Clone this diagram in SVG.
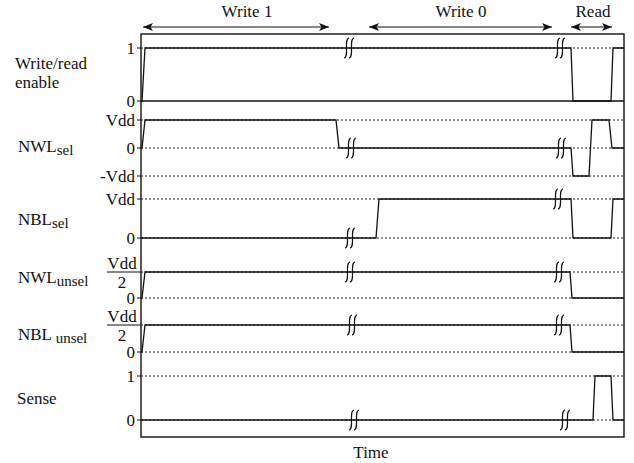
<svg xmlns="http://www.w3.org/2000/svg" width="634" height="463" viewBox="0 0 634 463">
<defs>
<marker id="ah" viewBox="0 0 10 8" refX="10" refY="4" markerWidth="10" markerHeight="8" markerUnits="userSpaceOnUse" orient="auto-start-reverse">
<path d="M0,0 L10,4 L0,8 L2.5,4 Z" fill="#111"/>
</marker>
<path id="brk" d="M0,-10 C-5.5,-9 0.5,9 -5,10 M5,-10 C-0.5,-9 5.5,9 0,10" fill="none" stroke="#111" stroke-width="1.2"/>
</defs>
<style>
text{font-family:"Liberation Serif","Times New Roman",serif;font-size:17px;fill:#111}
.sub{font-size:15px}
.lv{text-anchor:end}
.mid{text-anchor:middle}
.dot{stroke:#222;stroke-width:1;stroke-dasharray:2 2;fill:none}
.sig{stroke:#111;stroke-width:1.3;fill:none;stroke-linejoin:miter}
.frame{stroke:#111;stroke-width:1.4;fill:none}
.tick{stroke:#111;stroke-width:1}
.arr{stroke:#111;stroke-width:1.2;marker-start:url(#ah);marker-end:url(#ah)}
</style>
<rect width="634" height="463" fill="#fff"/>

<g id="phases">
<line class="arr" x1="143" y1="27" x2="329" y2="27"/>
<text class="mid" x="247" y="17">Write 1</text>
<line class="arr" x1="369" y1="27" x2="552" y2="27"/>
<text class="mid" x="461" y="17">Write 0</text>
<line class="arr" x1="571" y1="27" x2="612" y2="27"/>
<text class="mid" x="593" y="17">Read</text>
</g>

<g id="reference-lines">
<line class="dot" x1="141" y1="48" x2="624" y2="48"/>
<line class="dot" x1="141" y1="120" x2="624" y2="120"/>
<line class="dot" x1="141" y1="148" x2="624" y2="148"/>
<line class="dot" x1="141" y1="176" x2="624" y2="176"/>
<line class="dot" x1="141" y1="199" x2="624" y2="199"/>
<line class="dot" x1="141" y1="238" x2="624" y2="238"/>
<line class="dot" x1="141" y1="272" x2="624" y2="272"/>
<line class="dot" x1="141" y1="298" x2="624" y2="298"/>
<line class="dot" x1="141" y1="325" x2="624" y2="325"/>
<line class="dot" x1="141" y1="352" x2="624" y2="352"/>
<line class="dot" x1="141" y1="376" x2="624" y2="376"/>
<line class="dot" x1="141" y1="420" x2="624" y2="420"/>
<line class="frame" x1="141" y1="101" x2="624" y2="101"/>
</g>

<g id="ticks">
<line class="tick" x1="137" y1="48" x2="141" y2="48"/>
<line class="tick" x1="137" y1="101" x2="141" y2="101"/>
<line class="tick" x1="137" y1="120" x2="141" y2="120"/>
<line class="tick" x1="137" y1="148" x2="141" y2="148"/>
<line class="tick" x1="137" y1="176" x2="141" y2="176"/>
<line class="tick" x1="137" y1="199" x2="141" y2="199"/>
<line class="tick" x1="137" y1="238" x2="141" y2="238"/>
<line class="tick" x1="137" y1="272" x2="141" y2="272"/>
<line class="tick" x1="137" y1="298" x2="141" y2="298"/>
<line class="tick" x1="137" y1="325" x2="141" y2="325"/>
<line class="tick" x1="137" y1="352" x2="141" y2="352"/>
<line class="tick" x1="137" y1="376" x2="141" y2="376"/>
<line class="tick" x1="137" y1="420" x2="141" y2="420"/>
</g>

<rect id="frame" class="frame" x="141" y="34" width="483" height="403"/>

<g id="write-read-enable">
<text x="15" y="69">Write/read</text>
<text x="15" y="88">enable</text>
<text class="lv" x="135" y="54">1</text>
<text class="lv" x="135" y="107">0</text>
<path class="sig" d="M141,101 L142,101 L145,48 L571,48 L573,101 L611,101 L613,48 L624,48"/>
<use href="#brk" x="349" y="48"/>
<use href="#brk" x="560" y="48"/>
</g>

<g id="nwl-sel">
<text x="18" y="152">NWL<tspan class="sub" dy="3">sel</tspan></text>
<text class="lv" x="135" y="126">Vdd</text>
<text class="lv" x="135" y="154">0</text>
<text class="lv" x="135" y="182">-Vdd</text>
<path class="sig" d="M141,148 L142,148 L145,120 L336,120 L339,148 L571,148 L573,176 L589,176 L592,120 L609,120 L612,148 L624,148"/>
<use href="#brk" x="351" y="148"/>
<use href="#brk" x="561" y="148"/>
</g>

<g id="nbl-sel">
<text x="18" y="225">NBL<tspan class="sub" dy="3">sel</tspan></text>
<text class="lv" x="135" y="205">Vdd</text>
<text class="lv" x="135" y="244">0</text>
<path class="sig" d="M141,238 L376,238 L379,199 L571,199 L573,238 L611,238 L613,199 L624,199"/>
<use href="#brk" x="350" y="238"/>
<use href="#brk" x="558" y="199"/>
</g>

<g id="nwl-unsel">
<text x="18" y="283">NWL<tspan class="sub" dy="3">unsel</tspan></text>
<text class="mid" x="122" y="269">Vdd</text>
<line class="tick" x1="107" y1="272" x2="137" y2="272"/>
<text class="mid" x="122" y="288">2</text>
<text class="lv" x="135" y="304">0</text>
<path class="sig" d="M141,298 L142,298 L145,272 L570,272 L572,298 L624,298"/>
<use href="#brk" x="350" y="272"/>
<use href="#brk" x="559" y="272"/>
</g>

<g id="nbl-unsel">
<text x="18" y="340">NBL <tspan class="sub" dy="3">unsel</tspan></text>
<text class="mid" x="122" y="322">Vdd</text>
<line class="tick" x1="107" y1="325" x2="137" y2="325"/>
<text class="mid" x="122" y="341">2</text>
<text class="lv" x="135" y="358">0</text>
<path class="sig" d="M141,352 L142,352 L145,325 L570,325 L572,352 L624,352"/>
<use href="#brk" x="352" y="325"/>
<use href="#brk" x="559" y="325"/>
</g>

<g id="sense">
<text x="17" y="404">Sense</text>
<text class="lv" x="135" y="382">1</text>
<text class="lv" x="135" y="426">0</text>
<path class="sig" d="M141,420 L593,420 L595,376 L611,376 L613,420 L624,420"/>
<use href="#brk" x="354" y="420"/>
<use href="#brk" x="565" y="420"/>
</g>

<text class="mid" x="371" y="458">Time</text>
</svg>
